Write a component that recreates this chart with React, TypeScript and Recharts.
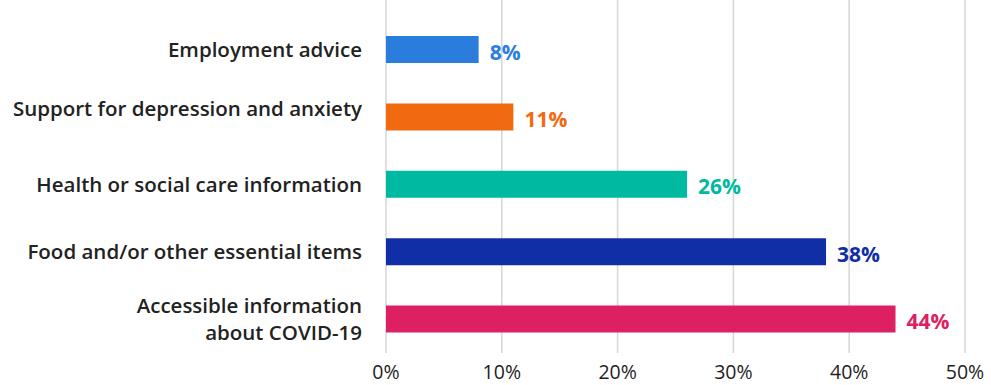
import { BarChart, Bar, XAxis, YAxis, CartesianGrid, LabelList, Cell } from "recharts";

const categories = [
  "Employment advice",
  "Support for depression and anxiety",
  "Health or social care information",
  "Food and/or other essential items",
  "Accessible information\nabout COVID-19",
];
const shares = [8, 11, 26, 38, 44];
const barColors = ["#2A7DDC", "#F26A10", "#00B9A1", "#102EA6", "#DD2062"];
const xTicks = [0, 10, 20, 30, 40, 50];

const FONT = "'Open Sans', 'Noto Sans', sans-serif";

const data = categories.map((name, i) => ({ name, value: shares[i], color: barColors[i] }));

// the source nudges the second label up a little
const labelShift = (i: number) => (i === 1 ? -9 : -1);

function CategoryTick(props: any) {
  const { x, y, payload, index } = props;
  const lines = String(payload.value).split("\n");
  const lh = 27;
  const start = y - ((lines.length - 1) * lh) / 2 + labelShift(index);
  return (
    <text
      x={x - 16}
      y={start}
      textAnchor="end"
      dominantBaseline="central"
      fontFamily={FONT}
      fontSize={20.5}
      fontWeight={600}
      fill="#222"
    >
      {lines.map((l, i) => (
        <tspan key={i} x={x - 16} y={start + i * lh}>
          {l}
        </tspan>
      ))}
    </text>
  );
}

function ValueLabel(props: any) {
  const { x, y, width, height, index, value } = props;
  return (
    <text
      x={x + width + 11}
      y={y + height / 2 + 2}
      dominantBaseline="central"
      fontFamily={FONT}
      fontSize={21}
      fontWeight={700}
      fill={barColors[index]}
    >
      {value}%
    </text>
  );
}

export default function App() {
  return (
    <div style={{ position: "absolute", left: 0, top: 0, background: "#fff" }}>
      <BarChart
        width={991}
        height={385}
        data={data}
        layout="vertical"
        margin={{ top: 0, right: 26, bottom: 0, left: 0 }}
      >
        <CartesianGrid horizontal={false} stroke="#d6d6d6" strokeWidth={1.5} />
        <XAxis
          type="number"
          domain={[0, 50]}
          ticks={xTicks}
          tickFormatter={(v) => `${v}%`}
          axisLine={false}
          tickLine={false}
          height={32}
          tick={{ fontFamily: FONT, fontSize: 19.5, fill: "#1e1e1e", dy: 4 }}
        />
        <YAxis
          type="category"
          dataKey="name"
          width={386}
          axisLine={false}
          tickLine={false}
          padding={{ top: 16, bottom: 0 }}
          tick={<CategoryTick />}
          interval={0}
        />
        <Bar dataKey="value" barSize={27} isAnimationActive={false}>
          {data.map((d, i) => (
            <Cell key={i} fill={d.color} />
          ))}
          <LabelList dataKey="value" content={<ValueLabel />} />
        </Bar>
      </BarChart>
    </div>
  );
}
